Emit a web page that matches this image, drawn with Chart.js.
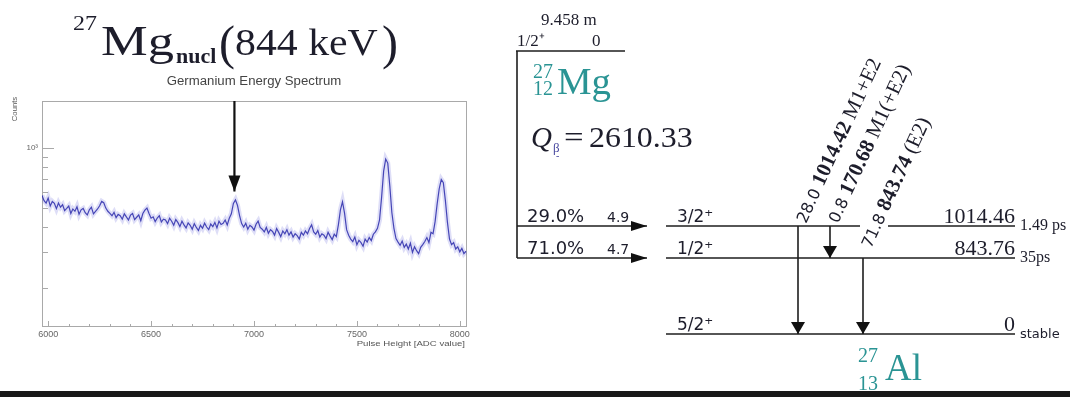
<!DOCTYPE html>
<html>
<head>
<meta charset="utf-8">
<script src="https://cdn.jsdelivr.net/npm/chart.js@4.4.1/dist/chart.umd.min.js"></script>
<style>
  html, body { margin: 0; padding: 0; background: #fff; width: 1070px; height: 397px; overflow: hidden; }
  canvas { position: absolute; top: 0; }
  #spec { left: 0; }
  #scheme { left: 490px; }
  #bar { position: absolute; left: 0; top: 391px; width: 1070px; height: 6px; background: #181818; }
</style>
</head>
<body>
<canvas id="spec" width="490" height="397"></canvas>
<canvas id="scheme" width="580" height="397"></canvas>
<div id="bar"></div>
<script>
// ---- germanium spectrum (counts per 10-channel bin) ----
const spectrumStart = 5970;
const spectrumStep = 10;
const counts = [
  578, 545, 530, 561, 512, 540, 528, 497, 530, 505,
  520, 486, 498, 512, 470, 495, 482, 508, 466, 490,
  498, 474, 462, 490, 505, 468, 482, 495, 514, 540,
  532, 500, 482, 470, 458, 476, 448, 465, 458, 440,
  468, 452, 436, 461, 470, 438, 450, 462, 432, 470,
  488, 500, 470, 445, 452, 428, 446, 458, 426, 440,
  436, 418, 445, 430, 410, 438, 424, 404, 430, 412,
  398, 422, 410, 392, 418, 400, 386, 410, 396, 420,
  402, 390, 416, 404, 424, 398, 430, 414, 420, 436,
  412, 445, 468, 528, 550, 515, 458, 418, 402, 420,
  392, 410, 402, 388, 415, 430, 400, 392, 380, 400,
  374, 390, 382, 366, 395, 378, 360, 384, 372, 390,
  366, 380, 358, 372, 364, 350, 378, 366, 384, 372,
  395, 412, 380, 370, 386, 358, 372, 366, 352, 378,
  362, 348, 370, 360, 412, 490, 538, 472, 390, 366,
  350, 340, 358, 328, 345, 336, 322, 350, 338, 356,
  344, 370, 380, 396, 436, 566, 765, 880, 840, 645,
  474, 396, 352, 338, 326, 342, 318, 330, 312, 334,
  300, 320, 306, 296, 318, 328, 340, 356, 336, 378,
  372, 428, 525, 625, 695, 670, 545, 424, 350, 328,
  336, 312, 320, 302, 314, 296, 304
];
const xTickLabels = [6000, 6500, 7000, 7500, 8000];
const xMinorTicks = [6000, 6100, 6200, 6300, 6400, 6500, 6600, 6700, 6800, 6900, 7000,
                     7100, 7200, 7300, 7400, 7500, 7600, 7700, 7800, 7900, 8000];
const yTicks = [200, 300, 400, 500, 600, 700, 800, 900, 1000];
const yLabelled = 1000;
const markerChannel = 6905;   // the 844 keV line
const markerTip = 605;

// ---- 27Mg -> 27Al decay scheme ----
const parentSpin = '1/2⁺';
const parentEnergy = '0';
const parentHalfLife = '9.458 m';
const qBeta = '2610.33';
const levelSpins = ['5/2⁺', '1/2⁺', '3/2⁺'];
const levelEnergies = ['0', '843.76', '1014.46'];
const levelHalfLives = ['stable', '35ps', '1.49 ps'];
const betaBranches = ['', '71.0%', '29.0%'];
const betaLogFt = ['', '4.7', '4.9'];
const gammaFrom = [2, 2, 1];
const gammaTo = [0, 1, 0];
const gammaEnergies = ['1014.42', '170.68', '843.74'];
const gammaIntensities = ['28.0', '0.8', '71.8'];
const gammaMultipolarities = ['M1+E2', 'M1(+E2)', '(E2)'];

// schematic layout of the scheme (diagram units)
const levelRowY = [0, 76, 108];
const parentRowY = 283;
const parentSpan = [26, 135];
const stemX = 27;
const betaTipX = 157;
const levelSpan = [176, 525];
const gap = [370, 398];          // break in the 3/2+ line for the 71.8 label
const gammaColumnX = [308, 340, 373];
const gammaLabelLift = [2, 2, 9];

const INK = '#1d1d2b';
const TEAL = '#2a9494';

function txt(ctx, s, x, y, font, color, align, sx) {
  ctx.save();
  ctx.translate(x, y);
  ctx.scale(sx || 1, 1);
  ctx.font = font;
  ctx.fillStyle = color;
  ctx.textAlign = align || 'left';
  ctx.textBaseline = 'alphabetic';
  ctx.fillText(s, 0, 0);
  const w = ctx.measureText(s).width * (sx || 1);
  ctx.restore();
  return w;
}

function head(ctx, x, y, dx, dy, len, hw) {
  const n = Math.hypot(dx, dy); dx /= n; dy /= n;
  ctx.beginPath();
  ctx.moveTo(x, y);
  ctx.lineTo(x - dx * len - dy * hw, y - dy * len + dx * hw);
  ctx.lineTo(x - dx * len + dy * hw, y - dy * len - dx * hw);
  ctx.closePath();
  ctx.fill();
}

// ---------- left: spectrum ----------
const specPoints = counts.map((c, i) => ({ x: spectrumStart + i * spectrumStep, y: c }));

const specDecor = {
  id: 'specDecor',
  beforeDatasetsDraw(chart) {
    const { ctx, chartArea: a, scales: { x, y } } = chart;
    ctx.save();
    ctx.strokeStyle = '#a9a9a9';
    ctx.lineWidth = 1;
    ctx.strokeRect(a.left + 0.5, a.top + 0.5, a.right - a.left - 1, a.bottom - a.top - 1);
    ctx.beginPath();
    xMinorTicks.forEach(v => {
      const px = Math.round(x.getPixelForValue(v)) + 0.5;
      const len = xTickLabels.includes(v) ? 6 : 3;
      ctx.moveTo(px, a.bottom); ctx.lineTo(px, a.bottom - len);
    });
    yTicks.forEach(v => {
      const py = Math.round(y.getPixelForValue(v)) + 0.5;
      const len = v === yLabelled ? 12 : 6;
      ctx.moveTo(a.left, py); ctx.lineTo(a.left + len, py);
    });
    ctx.stroke();
    ctx.restore();
  },
  afterDatasetsDraw(chart) {
    const { ctx } = chart;
    const pts = chart.getDatasetMeta(2).data;
    const p = pts[pts.length - 1], q = pts[0];
    ctx.save();
    ctx.fillStyle = '#111';
    head(ctx, p.x, p.y, p.x - q.x, p.y - q.y, 16, 6);
    ctx.restore();
  },
  afterDraw(chart) {
    const { ctx, chartArea: a } = chart;
    // slide title
    txt(ctx, '27', 73, 30, '20px "Liberation Serif"', INK, 'left', 1.2);
    txt(ctx, 'Mg', 101, 55, '42px "Liberation Serif"', INK, 'left', 1.25);
    txt(ctx, 'nucl', 176, 63, 'bold 20px "Liberation Serif"', INK, 'left', 1.1);
    txt(ctx, '(', 219, 59, '48px "Liberation Serif"', INK, 'left', 1);
    txt(ctx, '844 keV', 235, 55, '38px "Liberation Serif"', INK, 'left', 1.1);
    txt(ctx, ')', 382, 59, '48px "Liberation Serif"', INK, 'left', 1);
    // plot title and axis titles
    txt(ctx, 'Germanium Energy Spectrum', 254, 85, '12px "Liberation Sans"', '#444', 'center', 1.1);
    txt(ctx, 'Pulse Height [ADC value]', a.right - 2, 346, '8px "Liberation Sans"', '#555', 'right', 1.2);
    ctx.save();
    ctx.translate(17, 109);
    ctx.rotate(-Math.PI / 2);
    txt(ctx, 'Counts', 0, 0, '7px "Liberation Sans"', '#555', 'center', 1.1);
    ctx.restore();
  }
};

new Chart(document.getElementById('spec'), {
  type: 'scatter',
  data: {
    datasets: [
      { data: specPoints, showLine: true, pointRadius: 0, borderWidth: 5, borderColor: 'rgba(90,90,215,0.2)' },
      { data: specPoints, showLine: true, pointRadius: 0, borderWidth: 1.2, borderColor: 'rgba(30,30,160,0.85)' },
      { data: [{ x: markerChannel, y: 1718 }, { x: markerChannel, y: markerTip }], showLine: true,
        pointRadius: 0, borderWidth: 2.2, borderColor: '#111' }
    ]
  },
  options: {
    responsive: false,
    animation: false,
    events: [],
    layout: { padding: { left: 0, top: 101, right: 23, bottom: 50 }, autoPadding: false },
    plugins: { legend: { display: false }, tooltip: { enabled: false } },
    scales: {
      x: {
        type: 'linear', min: 5970, max: 8035, bounds: 'data',
        afterBuildTicks(s) { s.ticks = xMinorTicks.map(v => ({ value: v })); },
        afterFit(s) { s.height = 20; },
        grid: { display: false, drawTicks: false },
        border: { display: false },
        ticks: {
          autoSkip: false, maxRotation: 0, padding: 2, color: '#666',
          font: { family: 'Liberation Sans', size: 9 },
          callback: v => xTickLabels.includes(v) ? String(v) : ''
        }
      },
      y: {
        type: 'logarithmic', min: 127, max: 1718, bounds: 'data',
        afterBuildTicks(s) { s.ticks = yTicks.map(v => ({ value: v })); },
        afterFit(s) { s.width = 42; },
        grid: { display: false, drawTicks: false },
        border: { display: false },
        ticks: {
          autoSkip: false, padding: 4, color: '#666',
          font: { family: 'Liberation Sans', size: 8 },
          callback: v => v === yLabelled ? '10³' : ''
        }
      }
    }
  },
  plugins: [specDecor]
});

// ---------- right: decay scheme ----------
const line = (pts, arrow) => ({ data: pts, arrow: !!arrow, showLine: true, pointRadius: 0,
  borderWidth: 1.6, borderColor: '#1e1e1e', clip: false });

const schemeSets = [
  line([{ x: parentSpan[0], y: parentRowY }, { x: parentSpan[1], y: parentRowY }]),
  line([{ x: stemX, y: parentRowY }, { x: stemX, y: levelRowY[1] }])
];
betaBranches.forEach((b, i) => {
  if (b) schemeSets.push(line([{ x: stemX, y: levelRowY[i] }, { x: betaTipX, y: levelRowY[i] }], true));
});
levelRowY.forEach((ly, i) => {
  if (i === 2) {
    schemeSets.push(line([{ x: levelSpan[0], y: ly }, { x: gap[0], y: ly }]));
    schemeSets.push(line([{ x: gap[1], y: ly }, { x: levelSpan[1], y: ly }]));
  } else {
    schemeSets.push(line([{ x: levelSpan[0], y: ly }, { x: levelSpan[1], y: ly }]));
  }
});
gammaFrom.forEach((f, i) => {
  schemeSets.push(line([{ x: gammaColumnX[i], y: levelRowY[f] }, { x: gammaColumnX[i], y: levelRowY[gammaTo[i]] }], true));
});

const schemeDecor = {
  id: 'schemeDecor',
  afterDatasetsDraw(chart) {
    const { ctx } = chart;
    ctx.save();
    ctx.fillStyle = '#111';
    chart.data.datasets.forEach((ds, i) => {
      if (!ds.arrow) return;
      const pts = chart.getDatasetMeta(i).data;
      const p = pts[pts.length - 1], q = pts[0];
      const horiz = Math.abs(p.x - q.x) > Math.abs(p.y - q.y);
      head(ctx, p.x, p.y, p.x - q.x, p.y - q.y, horiz ? 16 : 12, horiz ? 5 : 7);
    });
    ctx.restore();
  },
  afterDraw(chart) {
    const { ctx, scales: { x, y } } = chart;
    const X = v => x.getPixelForValue(v), Y = v => y.getPixelForValue(v);
    const serif = s => s + 'px "Liberation Serif"';
    const sans = s => s + 'px "DejaVu Sans"';

    // parent
    const px0 = X(parentSpan[0]), py = Y(parentRowY);
    txt(ctx, parentHalfLife, px0 + 25, py - 26, serif(17), INK);
    txt(ctx, parentSpin, px0 + 1, py - 5, serif(17), INK);
    txt(ctx, parentEnergy, px0 + 76, py - 5, serif(17), INK);
    txt(ctx, '27', px0 + 17, py + 27, serif(20), TEAL);
    txt(ctx, '12', px0 + 17, py + 44, serif(20), TEAL);
    txt(ctx, 'Mg', px0 + 41, py + 43, serif(37), TEAL, 'left', 1.05);
    txt(ctx, 'Q', px0 + 15, py + 96, 'italic ' + serif(29), INK);
    txt(ctx, 'β', px0 + 37, py + 101, serif(13), '#4a4aa0');
    txt(ctx, '-', px0 + 40, py + 108, serif(10), '#4a4aa0');
    txt(ctx, '=', px0 + 48, py + 96, serif(29), INK, 'left', 1.2);
    txt(ctx, qBeta, px0 + 73, py + 96, serif(29), INK, 'left', 1.1);

    // beta feeding
    const sx = X(stemX);
    betaBranches.forEach((b, i) => {
      if (!b) return;
      txt(ctx, b, sx + 10, Y(levelRowY[i]) - 4, sans(18), INK);
      txt(ctx, betaLogFt[i], sx + 90, Y(levelRowY[i]) - 4, sans(14), INK);
    });

    // daughter levels
    const lx0 = X(levelSpan[0]), lx1 = X(levelSpan[1]);
    levelRowY.forEach((ly, i) => {
      const yy = Y(ly);
      txt(ctx, levelSpins[i], lx0 + 11, yy - 4, sans(17), INK);
      txt(ctx, levelEnergies[i], lx1, yy - 3, serif(22), INK, 'right');
      txt(ctx, levelHalfLives[i], lx1 + 5, yy + 4, i === 0 ? sans(13) : serif(16), INK);
    });
    txt(ctx, '27', lx0 + 192, Y(0) + 28, serif(20), TEAL);
    txt(ctx, '13', lx0 + 192, Y(0) + 56, serif(20), TEAL);
    txt(ctx, 'Al', lx0 + 219, Y(0) + 46, serif(37), TEAL);

    // gamma labels
    gammaFrom.forEach((f, i) => {
      ctx.save();
      ctx.translate(X(gammaColumnX[i]) + 8, Y(levelRowY[f]) - gammaLabelLift[i]);
      ctx.rotate(-65 * Math.PI / 180);
      ctx.fillStyle = INK;
      ctx.textBaseline = 'alphabetic';
      let cx = 0;
      [[gammaIntensities[i] + ' ', sans(16)],
       [gammaEnergies[i], 'bold ' + serif(21)],
       [' ' + gammaMultipolarities[i], serif(21)]].forEach(([s, font]) => {
        ctx.font = font;
        ctx.fillText(s, cx, 0);
        cx += ctx.measureText(s).width;
      });
      ctx.restore();
    });
  }
};

new Chart(document.getElementById('scheme'), {
  type: 'scatter',
  data: { datasets: schemeSets },
  options: {
    responsive: false,
    animation: false,
    events: [],
    layout: { padding: 0, autoPadding: false },
    plugins: { legend: { display: false }, tooltip: { enabled: false } },
    scales: {
      x: { type: 'linear', display: false, min: 0, max: 580 },
      y: { type: 'linear', display: false, min: -63, max: 334 }
    }
  },
  plugins: [schemeDecor]
});
</script>
</body>
</html>
